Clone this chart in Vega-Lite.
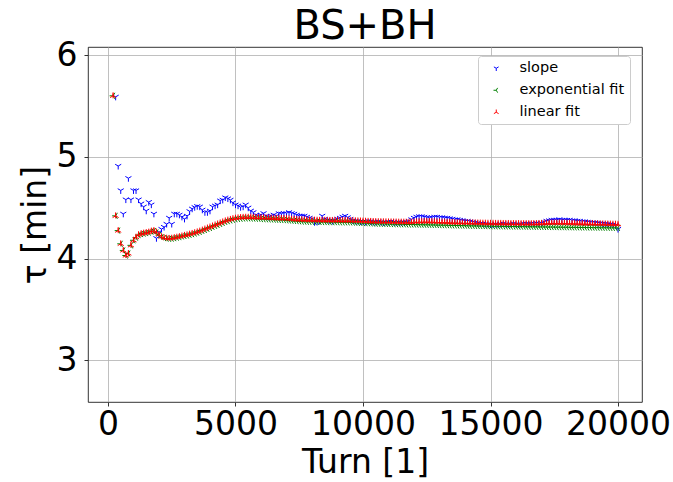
{
"$schema":"https://vega.github.io/schema/vega-lite/v6.json",
"autosize":"none",
"width":554,"height":355,
"padding":{"left":88,"top":47,"right":31,"bottom":80},
"background":"white",
"config":{
"font":"DejaVu Sans",
"view":{"stroke":"#000","strokeWidth":0.8},
"axis":{"grid":true,"gridColor":"#b0b0b0","gridWidth":0.8,"domain":false,"tickColor":"#000","tickSize":4,"tickWidth":0.8,"labelFont":"DejaVu Sans","labelFontSize":33,"labelColor":"#000","titleFont":"DejaVu Sans","titleFontSize":33,"titleFontWeight":"normal","titleColor":"#000"},
"title":{"font":"DejaVu Sans","fontSize":40,"fontWeight":"normal","color":"#000"}
},
"title":{"text":"BS+BH","anchor":"middle","offset":-8},
"data":{"values":[
{"t":200,"a":null,"b":5.6,"c":5.6,"r":0.025},
{"t":300,"a":5.59,"b":4.42,"c":4.42,"r":0.025},
{"t":400,"a":4.91,"b":4.275,"c":4.275,"r":0.025},
{"t":500,"a":4.67,"b":4.145,"c":4.145,"r":0.025},
{"t":600,"a":4.44,"b":4.08,"c":4.08,"r":0.025},
{"t":700,"a":4.58,"b":4.03,"c":4.03,"r":0.025},
{"t":800,"a":4.79,"b":4.05,"c":4.05,"r":0.025},
{"t":900,"a":4.58,"b":4.13,"c":4.13,"r":0.025},
{"t":1000,"a":4.67,"b":4.18,"c":4.18,"r":0.025},
{"t":1100,"a":4.67,"b":4.206,"c":4.21,"r":0.025},
{"t":1200,"a":4.58,"b":4.231,"c":4.235,"r":0.025},
{"t":1300,"a":4.54,"b":4.241,"c":4.245,"r":0.025},
{"t":1400,"a":4.51,"b":4.246,"c":4.25,"r":0.025},
{"t":1500,"a":4.47,"b":4.251,"c":4.255,"r":0.025},
{"t":1600,"a":4.555,"b":4.256,"c":4.26,"r":0.025},
{"t":1700,"a":4.53,"b":4.266,"c":4.27,"r":0.025},
{"t":1800,"a":4.44,"b":4.271,"c":4.275,"r":0.025},
{"t":1900,"a":4.2,"b":4.256,"c":4.26,"r":0.025},
{"t":2000,"a":4.26,"b":4.231,"c":4.235,"r":0.02},
{"t":2100,"a":4.29,"b":4.211,"c":4.215,"r":0.02},
{"t":2200,"a":4.31,"b":4.201,"c":4.205,"r":0.02},
{"t":2300,"a":4.34,"b":4.196,"c":4.2,"r":0.02},
{"t":2400,"a":4.4,"b":4.194,"c":4.198,"r":0.02},
{"t":2500,"a":4.34,"b":4.196,"c":4.2,"r":0.02},
{"t":2600,"a":4.44,"b":4.201,"c":4.205,"r":0.02},
{"t":2700,"a":4.44,"b":4.206,"c":4.21,"r":0.02},
{"t":2800,"a":4.43,"b":4.211,"c":4.215,"r":0.02},
{"t":2900,"a":4.41,"b":4.218,"c":4.222,"r":0.02},
{"t":3000,"a":4.39,"b":4.222,"c":4.228,"r":0.02},
{"t":3100,"a":4.42,"b":4.227,"c":4.233,"r":0.02},
{"t":3200,"a":4.465,"b":4.234,"c":4.24,"r":0.02},
{"t":3300,"a":4.49,"b":4.24,"c":4.247,"r":0.02},
{"t":3400,"a":4.505,"b":4.247,"c":4.254,"r":0.02},
{"t":3500,"a":4.515,"b":4.255,"c":4.262,"r":0.02},
{"t":3600,"a":4.51,"b":4.263,"c":4.27,"r":0.02},
{"t":3700,"a":4.48,"b":4.273,"c":4.28,"r":0.02},
{"t":3800,"a":4.455,"b":4.282,"c":4.29,"r":0.02},
{"t":3900,"a":4.455,"b":4.292,"c":4.3,"r":0.02},
{"t":4000,"a":4.47,"b":4.302,"c":4.31,"r":0.02},
{"t":4100,"a":4.51,"b":4.312,"c":4.32,"r":0.02},
{"t":4200,"a":4.52,"b":4.322,"c":4.33,"r":0.02},
{"t":4300,"a":4.53,"b":4.331,"c":4.34,"r":0.02},
{"t":4400,"a":4.57,"b":4.341,"c":4.35,"r":0.02},
{"t":4500,"a":4.577,"b":4.351,"c":4.36,"r":0.02},
{"t":4600,"a":4.6,"b":4.361,"c":4.37,"r":0.02},
{"t":4700,"a":4.59,"b":4.368,"c":4.378,"r":0.02},
{"t":4800,"a":4.577,"b":4.375,"c":4.385,"r":0.02},
{"t":4900,"a":4.55,"b":4.382,"c":4.392,"r":0.02},
{"t":5000,"a":4.53,"b":4.387,"c":4.397,"r":0.02},
{"t":5100,"a":4.52,"b":4.39,"c":4.4,"r":0.02},
{"t":5200,"a":4.505,"b":4.392,"c":4.403,"r":0.02},
{"t":5300,"a":4.51,"b":4.394,"c":4.405,"r":0.02},
{"t":5400,"a":4.53,"b":4.395,"c":4.406,"r":0.02},
{"t":5500,"a":4.5,"b":4.395,"c":4.406,"r":0.02},
{"t":5600,"a":4.47,"b":4.394,"c":4.406,"r":0.02},
{"t":5700,"a":4.455,"b":4.393,"c":4.405,"r":0.02},
{"t":5800,"a":4.43,"b":4.392,"c":4.404,"r":0.02},
{"t":5900,"a":4.42,"b":4.391,"c":4.403,"r":0.02},
{"t":6000,"a":4.43,"b":4.388,"c":4.402,"r":0.02},
{"t":6100,"a":4.445,"b":4.387,"c":4.401,"r":0.02},
{"t":6200,"a":4.42,"b":4.386,"c":4.4,"r":0.02},
{"t":6300,"a":4.41,"b":4.385,"c":4.399,"r":0.02},
{"t":6400,"a":4.42,"b":4.384,"c":4.398,"r":0.02},
{"t":6500,"a":4.43,"b":4.383,"c":4.397,"r":0.02},
{"t":6600,"a":4.42,"b":4.381,"c":4.396,"r":0.02},
{"t":6700,"a":4.445,"b":4.38,"c":4.395,"r":0.02},
{"t":6800,"a":4.44,"b":4.379,"c":4.394,"r":0.02},
{"t":6900,"a":4.445,"b":4.378,"c":4.393,"r":0.02},
{"t":7000,"a":4.445,"b":4.376,"c":4.392,"r":0.02},
{"t":7100,"a":4.455,"b":4.374,"c":4.39,"r":0.02},
{"t":7200,"a":4.445,"b":4.372,"c":4.388,"r":0.02},
{"t":7300,"a":4.44,"b":4.37,"c":4.386,"r":0.02},
{"t":7400,"a":4.43,"b":4.368,"c":4.384,"r":0.02},
{"t":7500,"a":4.42,"b":4.366,"c":4.382,"r":0.02},
{"t":7600,"a":4.42,"b":4.364,"c":4.381,"r":0.02},
{"t":7700,"a":4.42,"b":4.363,"c":4.38,"r":0.02},
{"t":7800,"a":4.41,"b":4.362,"c":4.379,"r":0.02},
{"t":7900,"a":4.4,"b":4.361,"c":4.378,"r":0.02},
{"t":8000,"a":4.39,"b":4.362,"c":4.378,"r":0.02},
{"t":8100,"a":4.357,"b":4.361,"c":4.377,"r":0.02},
{"t":8200,"a":4.36,"b":4.361,"c":4.377,"r":0.02},
{"t":8300,"a":4.37,"b":4.36,"c":4.376,"r":0.02},
{"t":8400,"a":4.42,"b":4.359,"c":4.376,"r":0.02},
{"t":8500,"a":4.39,"b":4.359,"c":4.376,"r":0.02},
{"t":8600,"a":4.38,"b":4.358,"c":4.375,"r":0.02},
{"t":8700,"a":4.375,"b":4.358,"c":4.375,"r":0.02},
{"t":8800,"a":4.37,"b":4.358,"c":4.375,"r":0.02},
{"t":8900,"a":4.38,"b":4.358,"c":4.375,"r":0.02},
{"t":9000,"a":4.39,"b":4.357,"c":4.375,"r":0.02},
{"t":9100,"a":4.4,"b":4.356,"c":4.374,"r":0.02},
{"t":9200,"a":4.41,"b":4.356,"c":4.374,"r":0.02},
{"t":9300,"a":4.42,"b":4.356,"c":4.374,"r":0.02},
{"t":9400,"a":4.405,"b":4.356,"c":4.374,"r":0.02},
{"t":9500,"a":4.39,"b":4.355,"c":4.373,"r":0.02},
{"t":9600,"a":4.375,"b":4.354,"c":4.372,"r":0.02},
{"t":9700,"a":4.37,"b":4.352,"c":4.371,"r":0.02},
{"t":9800,"a":4.37,"b":4.351,"c":4.37,"r":0.02},
{"t":9900,"a":4.365,"b":4.35,"c":4.369,"r":0.02},
{"t":10000,"a":4.365,"b":4.349,"c":4.368,"r":0.02},
{"t":10100,"a":4.36,"b":4.348,"c":4.367,"r":0.02},
{"t":10200,"a":4.37,"b":4.347,"c":4.366,"r":0.02},
{"t":10300,"a":4.365,"b":4.346,"c":4.365,"r":0.02},
{"t":10400,"a":4.36,"b":4.344,"c":4.364,"r":0.02},
{"t":10500,"a":4.36,"b":4.343,"c":4.363,"r":0.02},
{"t":10600,"a":4.365,"b":4.342,"c":4.362,"r":0.02},
{"t":10700,"a":4.36,"b":4.342,"c":4.362,"r":0.02},
{"t":10800,"a":4.355,"b":4.341,"c":4.361,"r":0.02},
{"t":10900,"a":4.36,"b":4.341,"c":4.361,"r":0.02},
{"t":11000,"a":4.36,"b":4.34,"c":4.36,"r":0.02},
{"t":11100,"a":4.365,"b":4.339,"c":4.36,"r":0.02},
{"t":11200,"a":4.36,"b":4.338,"c":4.359,"r":0.02},
{"t":11300,"a":4.355,"b":4.338,"c":4.359,"r":0.02},
{"t":11400,"a":4.36,"b":4.337,"c":4.358,"r":0.02},
{"t":11500,"a":4.355,"b":4.337,"c":4.358,"r":0.02},
{"t":11600,"a":4.36,"b":4.337,"c":4.358,"r":0.02},
{"t":11700,"a":4.36,"b":4.335,"c":4.357,"r":0.02},
{"t":11800,"a":4.37,"b":4.335,"c":4.357,"r":0.02},
{"t":11900,"a":4.385,"b":4.335,"c":4.357,"r":0.02},
{"t":12000,"a":4.4,"b":4.335,"c":4.36,"r":0.02},
{"t":12100,"a":4.41,"b":4.334,"c":4.361,"r":0.02},
{"t":12200,"a":4.415,"b":4.334,"c":4.362,"r":0.02},
{"t":12300,"a":4.415,"b":4.333,"c":4.363,"r":0.02},
{"t":12400,"a":4.41,"b":4.333,"c":4.364,"r":0.02},
{"t":12500,"a":4.405,"b":4.332,"c":4.364,"r":0.02},
{"t":12600,"a":4.4,"b":4.332,"c":4.364,"r":0.02},
{"t":12700,"a":4.405,"b":4.331,"c":4.363,"r":0.02},
{"t":12800,"a":4.41,"b":4.331,"c":4.362,"r":0.02},
{"t":12900,"a":4.41,"b":4.33,"c":4.361,"r":0.02},
{"t":13000,"a":4.405,"b":4.329,"c":4.36,"r":0.02},
{"t":13100,"a":4.405,"b":4.329,"c":4.359,"r":0.02},
{"t":13200,"a":4.4,"b":4.328,"c":4.358,"r":0.02},
{"t":13300,"a":4.4,"b":4.328,"c":4.357,"r":0.02},
{"t":13400,"a":4.395,"b":4.327,"c":4.356,"r":0.02},
{"t":13500,"a":4.39,"b":4.326,"c":4.355,"r":0.02},
{"t":13600,"a":4.385,"b":4.326,"c":4.354,"r":0.02},
{"t":13700,"a":4.385,"b":4.325,"c":4.353,"r":0.02},
{"t":13800,"a":4.38,"b":4.325,"c":4.353,"r":0.02},
{"t":13900,"a":4.375,"b":4.324,"c":4.352,"r":0.02},
{"t":14000,"a":4.37,"b":4.324,"c":4.352,"r":0.02},
{"t":14100,"a":4.37,"b":4.323,"c":4.351,"r":0.02},
{"t":14200,"a":4.365,"b":4.322,"c":4.351,"r":0.02},
{"t":14300,"a":4.36,"b":4.322,"c":4.35,"r":0.02},
{"t":14400,"a":4.355,"b":4.321,"c":4.35,"r":0.02},
{"t":14500,"a":4.35,"b":4.321,"c":4.349,"r":0.02},
{"t":14600,"a":4.345,"b":4.32,"c":4.349,"r":0.02},
{"t":14700,"a":4.345,"b":4.32,"c":4.348,"r":0.02},
{"t":14800,"a":4.34,"b":4.319,"c":4.348,"r":0.02},
{"t":14900,"a":4.34,"b":4.319,"c":4.347,"r":0.02},
{"t":15000,"a":4.335,"b":4.318,"c":4.347,"r":0.02},
{"t":15100,"a":4.335,"b":4.318,"c":4.347,"r":0.02},
{"t":15200,"a":4.34,"b":4.317,"c":4.346,"r":0.02},
{"t":15300,"a":4.335,"b":4.317,"c":4.346,"r":0.02},
{"t":15400,"a":4.34,"b":4.317,"c":4.346,"r":0.02},
{"t":15500,"a":4.345,"b":4.316,"c":4.345,"r":0.02},
{"t":15600,"a":4.34,"b":4.316,"c":4.345,"r":0.02},
{"t":15700,"a":4.335,"b":4.316,"c":4.345,"r":0.02},
{"t":15800,"a":4.34,"b":4.315,"c":4.344,"r":0.02},
{"t":15900,"a":4.345,"b":4.315,"c":4.344,"r":0.02},
{"t":16000,"a":4.34,"b":4.315,"c":4.344,"r":0.02},
{"t":16100,"a":4.335,"b":4.314,"c":4.344,"r":0.02},
{"t":16200,"a":4.34,"b":4.314,"c":4.343,"r":0.02},
{"t":16300,"a":4.345,"b":4.314,"c":4.343,"r":0.02},
{"t":16400,"a":4.345,"b":4.313,"c":4.343,"r":0.02},
{"t":16500,"a":4.34,"b":4.313,"c":4.343,"r":0.02},
{"t":16600,"a":4.345,"b":4.313,"c":4.343,"r":0.02},
{"t":16700,"a":4.345,"b":4.312,"c":4.343,"r":0.02},
{"t":16800,"a":4.35,"b":4.312,"c":4.344,"r":0.02},
{"t":16900,"a":4.345,"b":4.312,"c":4.345,"r":0.02},
{"t":17000,"a":4.35,"b":4.311,"c":4.346,"r":0.02},
{"t":17100,"a":4.36,"b":4.311,"c":4.347,"r":0.02},
{"t":17200,"a":4.37,"b":4.311,"c":4.348,"r":0.02},
{"t":17300,"a":4.375,"b":4.31,"c":4.349,"r":0.02},
{"t":17400,"a":4.38,"b":4.31,"c":4.35,"r":0.02},
{"t":17500,"a":4.38,"b":4.31,"c":4.35,"r":0.02},
{"t":17600,"a":4.38,"b":4.309,"c":4.35,"r":0.02},
{"t":17700,"a":4.385,"b":4.309,"c":4.35,"r":0.02},
{"t":17800,"a":4.38,"b":4.309,"c":4.35,"r":0.02},
{"t":17900,"a":4.38,"b":4.308,"c":4.349,"r":0.02},
{"t":18000,"a":4.38,"b":4.308,"c":4.349,"r":0.02},
{"t":18100,"a":4.38,"b":4.308,"c":4.348,"r":0.02},
{"t":18200,"a":4.375,"b":4.307,"c":4.348,"r":0.02},
{"t":18300,"a":4.375,"b":4.307,"c":4.347,"r":0.02},
{"t":18400,"a":4.37,"b":4.307,"c":4.346,"r":0.02},
{"t":18500,"a":4.37,"b":4.306,"c":4.346,"r":0.02},
{"t":18600,"a":4.365,"b":4.306,"c":4.345,"r":0.02},
{"t":18700,"a":4.365,"b":4.306,"c":4.344,"r":0.02},
{"t":18800,"a":4.36,"b":4.305,"c":4.344,"r":0.02},
{"t":18900,"a":4.36,"b":4.305,"c":4.343,"r":0.02},
{"t":19000,"a":4.355,"b":4.305,"c":4.343,"r":0.02},
{"t":19100,"a":4.355,"b":4.304,"c":4.342,"r":0.02},
{"t":19200,"a":4.35,"b":4.304,"c":4.341,"r":0.02},
{"t":19300,"a":4.35,"b":4.304,"c":4.341,"r":0.02},
{"t":19400,"a":4.345,"b":4.303,"c":4.34,"r":0.02},
{"t":19500,"a":4.345,"b":4.303,"c":4.34,"r":0.02},
{"t":19600,"a":4.34,"b":4.303,"c":4.339,"r":0.02},
{"t":19700,"a":4.34,"b":4.302,"c":4.339,"r":0.02},
{"t":19800,"a":4.335,"b":4.302,"c":4.338,"r":0.02},
{"t":19900,"a":4.33,"b":4.302,"c":4.338,"r":0.02},
{"t":20000,"a":4.29,"b":4.302,"c":4.337,"r":0.02}
]},
"encoding":{
"x":{"field":"t","type":"quantitative","scale":{"domain":[-784,20941],"nice":false,"zero":false},"axis":{"values":[0,5000,10000,15000,20000],"format":"d","title":"Turn [1]","labelPadding":2,"titlePadding":5}}
},
"layer":[
{
"transform":[{"fold":["a","b","c"],"as":["key","value"]}],
"mark":{"type":"point","filled":false,"strokeWidth":1,"size":49,"opacity":1},
"encoding":{
"y":{"field":"value","type":"quantitative","scale":{"domain":[2.59,6.08],"nice":false,"zero":false},"axis":{"values":[3,4,5,6],"title":"τ [min]","labelPadding":7,"titlePadding":4}},
"color":{"field":"key","type":"nominal","scale":{"domain":["a","b","c"],"range":["#0000ff","#008000","#ff0000"]},"legend":{"title":null,"orient":"none","legendX":390,"legendY":9,"padding":5,"strokeColor":"#cccccc","fillColor":"white","cornerRadius":3,"labelFont":"DejaVu Sans","labelFontSize":14.5,"labelColor":"#000","symbolOffset":6,"labelOffset":16,"rowPadding":7,"symbolStrokeWidth":1,"symbolSize":30,"labelExpr":"datum.label == 'a' ? 'slope' : datum.label == 'b' ? 'exponential fit' : 'linear fit'"}},
"shape":{"field":"key","type":"nominal","scale":{"domain":["a","b","c"],"range":["M0,0L0,1M0,0L-0.866,-0.5M0,0L0.866,-0.5","M0,0L-1,0M0,0L0.5,-0.866M0,0L0.5,0.866","M0,0L0,-1M0,0L-0.866,0.5M0,0L0.866,0.5"]},"legend":{"title":null,"orient":"none","legendX":390,"legendY":9,"padding":5,"strokeColor":"#cccccc","fillColor":"white","cornerRadius":3,"labelFont":"DejaVu Sans","labelFontSize":14.5,"labelColor":"#000","symbolOffset":6,"labelOffset":16,"rowPadding":7,"symbolStrokeWidth":1,"symbolSize":30,"labelExpr":"datum.label == 'a' ? 'slope' : datum.label == 'b' ? 'exponential fit' : 'linear fit'"}},
"order":{"field":"key","sort":"ascending"}
}
},
{
"mark":{"type":"errorbar","color":"#ff0000","thickness":1},
"encoding":{
"y":{"field":"c","type":"quantitative","scale":{"domain":[2.59,6.08],"nice":false,"zero":false},"axis":{"values":[3,4,5,6],"title":"τ [min]","labelPadding":7,"titlePadding":4}},
"yError":{"field":"r"}
}
}
]
}
